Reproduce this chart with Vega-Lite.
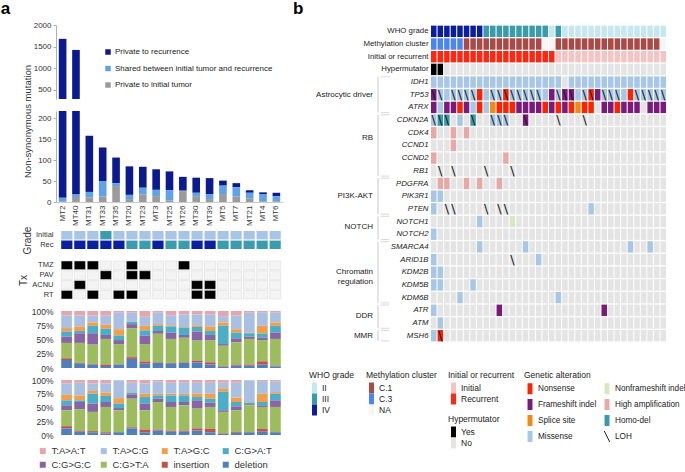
{
"$schema": "https://vega.github.io/schema/vega-lite/v6.json",
"padding": 0,
"background": "white",
"config": {
 "font": "Liberation Sans",
 "view": {"stroke": null},
 "axis": {"labelColor": "#333", "titleColor": "#333", "domainColor": "#b0b0b0", "tickColor": "#b0b0b0", "labelFontSize": 8, "titleFontWeight": "normal", "grid": false},
 "legend": {"padding": 0, "labelColor": "#222", "titleColor": "#222", "titleFontWeight": "normal", "labelFontSize": 8.5, "titleFontSize": 8.5},
 "title": {"fontWeight": "bold", "color": "#000"}
},
"datasets": {
 "mut": [
  {"s":"MT2","Private to initial tumor":2,"Shared between initial tumor and recurrence":8,"Private to recurrence":1670},
  {"s":"MT40","Private to initial tumor":12,"Shared between initial tumor and recurrence":6,"Private to recurrence":1406},
  {"s":"MT31","Private to initial tumor":11,"Shared between initial tumor and recurrence":13,"Private to recurrence":134},
  {"s":"MT33","Private to initial tumor":13,"Shared between initial tumor and recurrence":37,"Private to recurrence":80},
  {"s":"MT35","Private to initial tumor":38,"Shared between initial tumor and recurrence":7,"Private to recurrence":61},
  {"s":"MT20","Private to initial tumor":7,"Shared between initial tumor and recurrence":10,"Private to recurrence":68},
  {"s":"MT23","Private to initial tumor":18,"Shared between initial tumor and recurrence":16,"Private to recurrence":50},
  {"s":"MT3","Private to initial tumor":14,"Shared between initial tumor and recurrence":15,"Private to recurrence":49},
  {"s":"MT25","Private to initial tumor":4,"Shared between initial tumor and recurrence":24,"Private to recurrence":45},
  {"s":"MT26","Private to initial tumor":26,"Shared between initial tumor and recurrence":1,"Private to recurrence":33},
  {"s":"MT30","Private to initial tumor":14,"Shared between initial tumor and recurrence":8,"Private to recurrence":36},
  {"s":"MT39","Private to initial tumor":7,"Shared between initial tumor and recurrence":12,"Private to recurrence":38},
  {"s":"MT5","Private to initial tumor":19,"Shared between initial tumor and recurrence":20,"Private to recurrence":12},
  {"s":"MT7","Private to initial tumor":13,"Shared between initial tumor and recurrence":22,"Private to recurrence":10},
  {"s":"MT21","Private to initial tumor":9,"Shared between initial tumor and recurrence":13,"Private to recurrence":6},
  {"s":"MT4","Private to initial tumor":2,"Shared between initial tumor and recurrence":17,"Private to recurrence":4},
  {"s":"MT6","Private to initial tumor":2,"Shared between initial tumor and recurrence":12,"Private to recurrence":8}
 ],
 "grade": [
  {"s":"MT2","Initial":"II","Rec":"IV"},{"s":"MT40","Initial":"II","Rec":"IV"},{"s":"MT31","Initial":"II","Rec":"IV"},
  {"s":"MT33","Initial":"III","Rec":"IV"},{"s":"MT35","Initial":"II","Rec":"IV"},{"s":"MT20","Initial":"II","Rec":"III"},
  {"s":"MT23","Initial":"II","Rec":"III"},{"s":"MT3","Initial":"II","Rec":"IV"},{"s":"MT25","Initial":"II","Rec":"III"},
  {"s":"MT26","Initial":"II","Rec":"III"},{"s":"MT30","Initial":"II","Rec":"IV"},{"s":"MT39","Initial":"II","Rec":"IV"},
  {"s":"MT5","Initial":"II","Rec":"III"},{"s":"MT7","Initial":"II","Rec":"III"},{"s":"MT21","Initial":"II","Rec":"III"},
  {"s":"MT4","Initial":"II","Rec":"III"},{"s":"MT6","Initial":"II","Rec":"III"}
 ],
 "tx": [
  {"s":"MT2","TMZ":1,"PAV":0,"ACNU":0,"RT":1},{"s":"MT40","TMZ":1,"PAV":0,"ACNU":1,"RT":0},{"s":"MT31","TMZ":1,"PAV":0,"ACNU":0,"RT":1},
  {"s":"MT33","TMZ":0,"PAV":1,"ACNU":0,"RT":0},{"s":"MT35","TMZ":0,"PAV":0,"ACNU":0,"RT":1},{"s":"MT20","TMZ":1,"PAV":1,"ACNU":0,"RT":1},
  {"s":"MT23","TMZ":0,"PAV":1,"ACNU":0,"RT":0},{"s":"MT3","TMZ":0,"PAV":0,"ACNU":0,"RT":0},{"s":"MT25","TMZ":0,"PAV":0,"ACNU":0,"RT":0},
  {"s":"MT26","TMZ":1,"PAV":0,"ACNU":0,"RT":0},{"s":"MT30","TMZ":0,"PAV":0,"ACNU":1,"RT":1},{"s":"MT39","TMZ":0,"PAV":0,"ACNU":1,"RT":1},
  {"s":"MT5","TMZ":0,"PAV":0,"ACNU":0,"RT":0},{"s":"MT7","TMZ":0,"PAV":0,"ACNU":0,"RT":0},{"s":"MT21","TMZ":0,"PAV":0,"ACNU":0,"RT":0},
  {"s":"MT4","TMZ":0,"PAV":0,"ACNU":0,"RT":0},{"s":"MT6","TMZ":0,"PAV":0,"ACNU":0,"RT":0}
 ],
 "sig": [
  {"s":"MT2","p":1,"deletion":14,"insertion":3,"C:G>T:A":27,"C:G>G:C":11,"C:G>A:T":9,"T:A>G:C":6,"T:A>C:G":22,"T:A>A:T":8},
  {"s":"MT40","p":1,"deletion":7.5,"insertion":1.5,"C:G>T:A":35,"C:G>G:C":17,"C:G>A:T":4,"T:A>G:C":8,"T:A>C:G":19,"T:A>A:T":8},
  {"s":"MT31","p":1,"deletion":6,"insertion":1.5,"C:G>T:A":33.5,"C:G>G:C":20,"C:G>A:T":13,"T:A>G:C":6,"T:A>C:G":12,"T:A>A:T":8},
  {"s":"MT33","p":1,"deletion":3.5,"insertion":2.5,"C:G>T:A":45,"C:G>G:C":7,"C:G>A:T":11,"T:A>G:C":7,"T:A>C:G":16,"T:A>A:T":8},
  {"s":"MT35","p":1,"deletion":6,"insertion":0.5,"C:G>T:A":35.5,"C:G>G:C":7,"C:G>A:T":8,"T:A>G:C":11,"T:A>C:G":29,"T:A>A:T":3},
  {"s":"MT20","p":1,"deletion":16,"insertion":3,"C:G>T:A":51,"C:G>G:C":7,"C:G>A:T":4,"T:A>G:C":0.5,"T:A>C:G":15.5,"T:A>A:T":3},
  {"s":"MT23","p":1,"deletion":7.5,"insertion":4,"C:G>T:A":30.5,"C:G>G:C":15,"C:G>A:T":9,"T:A>G:C":8,"T:A>C:G":16,"T:A>A:T":10},
  {"s":"MT3","p":1,"deletion":9,"insertion":1,"C:G>T:A":50,"C:G>G:C":5,"C:G>A:T":9,"T:A>G:C":3,"T:A>C:G":20,"T:A>A:T":3},
  {"s":"MT25","p":1,"deletion":7.5,"insertion":1.5,"C:G>T:A":42,"C:G>G:C":11,"C:G>A:T":11,"T:A>G:C":2,"T:A>C:G":17.5,"T:A>A:T":7.5},
  {"s":"MT26","p":1,"deletion":9,"insertion":1,"C:G>T:A":43,"C:G>G:C":5,"C:G>A:T":12.5,"T:A>G:C":1.5,"T:A>C:G":22,"T:A>A:T":6},
  {"s":"MT30","p":1,"deletion":10,"insertion":3,"C:G>T:A":35,"C:G>G:C":16,"C:G>A:T":8,"T:A>G:C":3,"T:A>C:G":19,"T:A>A:T":6},
  {"s":"MT39","p":1,"deletion":6,"insertion":4,"C:G>T:A":39,"C:G>G:C":9,"C:G>A:T":7,"T:A>G:C":8,"T:A>C:G":21,"T:A>A:T":6},
  {"s":"MT5","p":1,"deletion":2,"insertion":1,"C:G>T:A":36,"C:G>G:C":3,"C:G>A:T":32,"T:A>G:C":6,"T:A>C:G":11,"T:A>A:T":9},
  {"s":"MT7","p":1,"deletion":4,"insertion":2,"C:G>T:A":39,"C:G>G:C":7,"C:G>A:T":10,"T:A>G:C":6,"T:A>C:G":24,"T:A>A:T":8},
  {"s":"MT21","p":1,"deletion":4,"insertion":2,"C:G>T:A":45,"C:G>G:C":4,"C:G>A:T":6,"T:A>G:C":1,"T:A>C:G":35,"T:A>A:T":3},
  {"s":"MT4","p":1,"deletion":6,"insertion":5.6,"C:G>T:A":37.4,"C:G>G:C":4.5,"C:G>A:T":7,"T:A>G:C":13.5,"T:A>C:G":23,"T:A>A:T":3},
  {"s":"MT6","p":1,"deletion":3,"insertion":1,"C:G>T:A":47,"C:G>G:C":11,"C:G>A:T":12,"T:A>G:C":6,"T:A>C:G":17,"T:A>A:T":3},
  {"s":"MT2","p":2,"deletion":12,"insertion":4,"C:G>T:A":29,"C:G>G:C":9,"C:G>A:T":9,"T:A>G:C":10,"T:A>C:G":21,"T:A>A:T":6},
  {"s":"MT40","p":2,"deletion":6,"insertion":2,"C:G>T:A":39,"C:G>G:C":13,"C:G>A:T":3,"T:A>G:C":9,"T:A>C:G":23,"T:A>A:T":5},
  {"s":"MT31","p":2,"deletion":5,"insertion":2,"C:G>T:A":35,"C:G>G:C":15,"C:G>A:T":18,"T:A>G:C":5,"T:A>C:G":14,"T:A>A:T":6},
  {"s":"MT33","p":2,"deletion":3,"insertion":2,"C:G>T:A":46,"C:G>G:C":9,"C:G>A:T":11,"T:A>G:C":6,"T:A>C:G":17,"T:A>A:T":6},
  {"s":"MT35","p":2,"deletion":5,"insertion":0.5,"C:G>T:A":39.5,"C:G>G:C":4,"C:G>A:T":8,"T:A>G:C":10,"T:A>C:G":32,"T:A>A:T":1},
  {"s":"MT20","p":2,"deletion":12,"insertion":2,"C:G>T:A":52,"C:G>G:C":8,"C:G>A:T":3,"T:A>G:C":1,"T:A>C:G":17,"T:A>A:T":5},
  {"s":"MT23","p":2,"deletion":5,"insertion":5,"C:G>T:A":35,"C:G>G:C":12,"C:G>A:T":12,"T:A>G:C":6,"T:A>C:G":19,"T:A>A:T":6},
  {"s":"MT3","p":2,"deletion":8,"insertion":2,"C:G>T:A":50,"C:G>G:C":6,"C:G>A:T":6,"T:A>G:C":3,"T:A>C:G":22,"T:A>A:T":3},
  {"s":"MT25","p":2,"deletion":6,"insertion":2,"C:G>T:A":43,"C:G>G:C":9,"C:G>A:T":12,"T:A>G:C":3,"T:A>C:G":20,"T:A>A:T":5},
  {"s":"MT26","p":2,"deletion":6,"insertion":2,"C:G>T:A":46,"C:G>G:C":6,"C:G>A:T":12,"T:A>G:C":3,"T:A>C:G":21,"T:A>A:T":4},
  {"s":"MT30","p":2,"deletion":8,"insertion":4,"C:G>T:A":36,"C:G>G:C":15,"C:G>A:T":6,"T:A>G:C":6,"T:A>C:G":20,"T:A>A:T":5},
  {"s":"MT39","p":2,"deletion":5,"insertion":6,"C:G>T:A":40,"C:G>G:C":8,"C:G>A:T":7,"T:A>G:C":9,"T:A>C:G":20,"T:A>A:T":5},
  {"s":"MT5","p":2,"deletion":2,"insertion":1,"C:G>T:A":39,"C:G>G:C":3,"C:G>A:T":34,"T:A>G:C":6,"T:A>C:G":10,"T:A>A:T":5},
  {"s":"MT7","p":2,"deletion":4,"insertion":2,"C:G>T:A":39,"C:G>G:C":7,"C:G>A:T":8,"T:A>G:C":8,"T:A>C:G":27,"T:A>A:T":5},
  {"s":"MT21","p":2,"deletion":5,"insertion":0.5,"C:G>T:A":48.5,"C:G>G:C":2,"C:G>A:T":3,"T:A>G:C":1,"T:A>C:G":39,"T:A>A:T":1},
  {"s":"MT4","p":2,"deletion":6,"insertion":5,"C:G>T:A":40,"C:G>G:C":3,"C:G>A:T":6,"T:A>G:C":15,"T:A>C:G":23,"T:A>A:T":2},
  {"s":"MT6","p":2,"deletion":5,"insertion":0.5,"C:G>T:A":45.5,"C:G>G:C":12,"C:G>A:T":12,"T:A>G:C":3,"T:A>C:G":19,"T:A>A:T":3}
 ],
 "ann": [
  {"c":1,"WHO grade":"IV","Methylation cluster":"C.3","Initial or recurrent":"Recurrent","Hypermutator":"Yes"},
  {"c":2,"WHO grade":"IV","Methylation cluster":"C.3","Initial or recurrent":"Recurrent","Hypermutator":"Yes"},
  {"c":3,"WHO grade":"IV","Methylation cluster":"C.3","Initial or recurrent":"Recurrent","Hypermutator":"No"},
  {"c":4,"WHO grade":"IV","Methylation cluster":"C.3","Initial or recurrent":"Recurrent","Hypermutator":"No"},
  {"c":5,"WHO grade":"IV","Methylation cluster":"C.3","Initial or recurrent":"Recurrent","Hypermutator":"No"},
  {"c":6,"WHO grade":"IV","Methylation cluster":"C.1","Initial or recurrent":"Recurrent","Hypermutator":"No"},
  {"c":7,"WHO grade":"IV","Methylation cluster":"C.1","Initial or recurrent":"Recurrent","Hypermutator":"No"},
  {"c":8,"WHO grade":"IV","Methylation cluster":"C.1","Initial or recurrent":"Recurrent","Hypermutator":"No"},
  {"c":9,"WHO grade":"III","Methylation cluster":"C.1","Initial or recurrent":"Recurrent","Hypermutator":"No"},
  {"c":10,"WHO grade":"III","Methylation cluster":"C.1","Initial or recurrent":"Recurrent","Hypermutator":"No"},
  {"c":11,"WHO grade":"III","Methylation cluster":"C.1","Initial or recurrent":"Recurrent","Hypermutator":"No"},
  {"c":12,"WHO grade":"III","Methylation cluster":"C.1","Initial or recurrent":"Recurrent","Hypermutator":"No"},
  {"c":13,"WHO grade":"III","Methylation cluster":"C.1","Initial or recurrent":"Recurrent","Hypermutator":"No"},
  {"c":14,"WHO grade":"III","Methylation cluster":"C.1","Initial or recurrent":"Recurrent","Hypermutator":"No"},
  {"c":15,"WHO grade":"III","Methylation cluster":"C.1","Initial or recurrent":"Recurrent","Hypermutator":"No"},
  {"c":16,"WHO grade":"III","Methylation cluster":"C.1","Initial or recurrent":"Recurrent","Hypermutator":"No"},
  {"c":17,"WHO grade":"III","Methylation cluster":"C.1","Initial or recurrent":"Recurrent","Hypermutator":"No"},
  {"c":18,"WHO grade":"III","Methylation cluster":"NA","Initial or recurrent":"Recurrent","Hypermutator":"No"},
  {"c":19,"WHO grade":"II","Methylation cluster":"NA","Initial or recurrent":"Recurrent","Hypermutator":"No"},
  {"c":20,"WHO grade":"III","Methylation cluster":"C.1","Initial or recurrent":"Initial","Hypermutator":"No"},
  {"c":21,"WHO grade":"II","Methylation cluster":"C.1","Initial or recurrent":"Initial","Hypermutator":"No"},
  {"c":22,"WHO grade":"II","Methylation cluster":"C.1","Initial or recurrent":"Initial","Hypermutator":"No"},
  {"c":23,"WHO grade":"II","Methylation cluster":"C.1","Initial or recurrent":"Initial","Hypermutator":"No"},
  {"c":24,"WHO grade":"II","Methylation cluster":"C.1","Initial or recurrent":"Initial","Hypermutator":"No"},
  {"c":25,"WHO grade":"II","Methylation cluster":"C.1","Initial or recurrent":"Initial","Hypermutator":"No"},
  {"c":26,"WHO grade":"II","Methylation cluster":"C.1","Initial or recurrent":"Initial","Hypermutator":"No"},
  {"c":27,"WHO grade":"II","Methylation cluster":"C.1","Initial or recurrent":"Initial","Hypermutator":"No"},
  {"c":28,"WHO grade":"II","Methylation cluster":"C.1","Initial or recurrent":"Initial","Hypermutator":"No"},
  {"c":29,"WHO grade":"II","Methylation cluster":"C.1","Initial or recurrent":"Initial","Hypermutator":"No"},
  {"c":30,"WHO grade":"II","Methylation cluster":"C.1","Initial or recurrent":"Initial","Hypermutator":"No"},
  {"c":31,"WHO grade":"II","Methylation cluster":"C.1","Initial or recurrent":"Initial","Hypermutator":"No"},
  {"c":32,"WHO grade":"II","Methylation cluster":"C.1","Initial or recurrent":"Initial","Hypermutator":"No"},
  {"c":33,"WHO grade":"II","Methylation cluster":"C.1","Initial or recurrent":"Initial","Hypermutator":"No"},
  {"c":34,"WHO grade":"II","Methylation cluster":"C.1","Initial or recurrent":"Initial","Hypermutator":"No"},
  {"c":35,"WHO grade":"II","Methylation cluster":"C.1","Initial or recurrent":"Initial","Hypermutator":"No"},
  {"c":36,"WHO grade":"II","Methylation cluster":"NA","Initial or recurrent":"Initial","Hypermutator":"No"}
 ],
 "genes": [
  {"g":"IDH1","c":1,"v":"Missense"},{"g":"IDH1","c":2,"v":"Missense"},{"g":"IDH1","c":3,"v":"Missense"},{"g":"IDH1","c":4,"v":"Missense"},
  {"g":"IDH1","c":5,"v":"Missense"},{"g":"IDH1","c":6,"v":"Missense"},{"g":"IDH1","c":7,"v":"Missense"},{"g":"IDH1","c":8,"v":"Missense"},
  {"g":"IDH1","c":9,"v":"Missense"},{"g":"IDH1","c":10,"v":"Missense"},{"g":"IDH1","c":11,"v":"Missense"},{"g":"IDH1","c":12,"v":"Missense"},
  {"g":"IDH1","c":13,"v":"Missense"},{"g":"IDH1","c":14,"v":"Missense"},{"g":"IDH1","c":15,"v":"Missense"},{"g":"IDH1","c":16,"v":"Missense"},
  {"g":"IDH1","c":17,"v":"Missense"},{"g":"IDH1","c":18,"v":"Missense"},{"g":"IDH1","c":19,"v":"Missense"},{"g":"IDH1","c":20,"v":"Missense"},
  {"g":"IDH1","c":22,"v":"Missense"},{"g":"IDH1","c":23,"v":"Missense"},{"g":"IDH1","c":24,"v":"Missense"},{"g":"IDH1","c":25,"v":"Missense"},
  {"g":"IDH1","c":26,"v":"Missense"},{"g":"IDH1","c":27,"v":"Missense"},{"g":"IDH1","c":28,"v":"Missense"},{"g":"IDH1","c":29,"v":"Missense"},
  {"g":"IDH1","c":30,"v":"Missense"},{"g":"IDH1","c":31,"v":"Missense"},{"g":"IDH1","c":32,"v":"Missense"},{"g":"IDH1","c":33,"v":"Missense"},
  {"g":"IDH1","c":34,"v":"Missense"},{"g":"IDH1","c":35,"v":"Missense"},{"g":"IDH1","c":36,"v":"Missense"},
  {"g":"TP53","c":1,"v":"Frameshift indel","l":1},{"g":"TP53","c":2,"v":"Missense","l":1},{"g":"TP53","c":3,"v":"Missense"},
  {"g":"TP53","c":4,"v":"Missense","l":1},{"g":"TP53","c":5,"v":"Missense","l":1},{"g":"TP53","c":6,"v":"Missense","l":1},
  {"g":"TP53","c":7,"v":"Missense","l":1},{"g":"TP53","c":8,"v":"Nonsense"},{"g":"TP53","c":9,"v":"Missense"},
  {"g":"TP53","c":10,"v":"Missense","l":1},{"g":"TP53","c":11,"v":"Missense","l":1},{"g":"TP53","c":12,"v":"Nonsense","l":1},
  {"g":"TP53","c":13,"v":"Missense","l":1},{"g":"TP53","c":14,"v":"Missense","l":1},{"g":"TP53","c":15,"v":"Missense","l":1},
  {"g":"TP53","c":16,"v":"Missense","l":1},{"g":"TP53","c":17,"v":"Missense","l":1},{"g":"TP53","c":18,"v":"Missense"},
  {"g":"TP53","c":19,"v":"Frameshift indel"},{"g":"TP53","c":20,"v":"Missense","l":1},{"g":"TP53","c":21,"v":"Frameshift indel","l":1},
  {"g":"TP53","c":22,"v":"Frameshift indel","l":1},{"g":"TP53","c":23,"v":"Missense"},{"g":"TP53","c":24,"v":"Missense","l":1},
  {"g":"TP53","c":25,"v":"Nonsense","l":1},{"g":"TP53","c":26,"v":"Frameshift indel"},{"g":"TP53","c":27,"v":"Missense","l":1},
  {"g":"TP53","c":28,"v":"Missense","l":1},{"g":"TP53","c":29,"v":"Missense","l":1},{"g":"TP53","c":30,"v":"Missense"},
  {"g":"TP53","c":31,"v":"Nonsense"},{"g":"TP53","c":32,"v":"Missense","l":1},{"g":"TP53","c":33,"v":"Missense","l":1},
  {"g":"TP53","c":34,"v":"Missense","l":1},{"g":"TP53","c":35,"v":"Missense","l":1},{"g":"TP53","c":36,"v":"Missense","l":1},
  {"g":"ATRX","c":1,"v":"Frameshift indel"},{"g":"ATRX","c":2,"v":"Missense"},{"g":"ATRX","c":3,"v":"Frameshift indel"},
  {"g":"ATRX","c":4,"v":"Frameshift indel"},{"g":"ATRX","c":5,"v":"Nonsense"},{"g":"ATRX","c":6,"v":"Frameshift indel"},
  {"g":"ATRX","c":7,"v":"Missense"},{"g":"ATRX","c":8,"v":"Nonsense"},{"g":"ATRX","c":9,"v":"Missense"},
  {"g":"ATRX","c":10,"v":"Splice site"},{"g":"ATRX","c":11,"v":"Nonsense"},{"g":"ATRX","c":12,"v":"Nonsense"},
  {"g":"ATRX","c":13,"v":"Nonsense"},{"g":"ATRX","c":14,"v":"Frameshift indel"},{"g":"ATRX","c":15,"v":"Frameshift indel"},
  {"g":"ATRX","c":16,"v":"Frameshift indel"},{"g":"ATRX","c":17,"v":"Frameshift indel"},{"g":"ATRX","c":18,"v":"Nonsense"},
  {"g":"ATRX","c":19,"v":"Frameshift indel"},{"g":"ATRX","c":20,"v":"Nonsense"},{"g":"ATRX","c":21,"v":"Frameshift indel"},
  {"g":"ATRX","c":22,"v":"Nonsense"},{"g":"ATRX","c":23,"v":"Splice site"},{"g":"ATRX","c":24,"v":"Nonsense"},
  {"g":"ATRX","c":25,"v":"Nonsense"},{"g":"ATRX","c":27,"v":"Frameshift indel"},{"g":"ATRX","c":28,"v":"Frameshift indel"},
  {"g":"ATRX","c":29,"v":"Nonsense"},{"g":"ATRX","c":30,"v":"Frameshift indel"},{"g":"ATRX","c":31,"v":"Frameshift indel"},
  {"g":"ATRX","c":32,"v":"Frameshift indel"},{"g":"ATRX","c":34,"v":"Frameshift indel"},{"g":"ATRX","c":35,"v":"Frameshift indel"},
  {"g":"ATRX","c":36,"v":"Frameshift indel"},
  {"g":"CDKN2A","c":1,"v":"Missense","l":1},{"g":"CDKN2A","c":2,"v":"Homo-del","l":1},{"g":"CDKN2A","c":3,"v":"Homo-del","l":1},
  {"g":"CDKN2A","c":5,"v":"Missense"},{"g":"CDKN2A","c":7,"v":"Homo-del","l":1},{"g":"CDKN2A","c":10,"v":"Missense","l":1},
  {"g":"CDKN2A","c":11,"v":"Missense","l":1},{"g":"CDKN2A","c":12,"v":"Missense","l":1},{"g":"CDKN2A","c":15,"v":"Frameshift indel","l":1},
  {"g":"CDKN2A","c":20,"v":"none","l":1},{"g":"CDKN2A","c":24,"v":"none","l":1},
  {"g":"CDK4","c":1,"v":"High amplification"},{"g":"CDK4","c":4,"v":"High amplification"},{"g":"CDK4","c":6,"v":"High amplification"},
  {"g":"CCND1","c":4,"v":"High amplification"},
  {"g":"CCND2","c":1,"v":"High amplification"},{"g":"CCND2","c":12,"v":"High amplification"},
  {"g":"RB1","c":2,"v":"none","l":1},{"g":"RB1","c":4,"v":"none","l":1},{"g":"RB1","c":9,"v":"none","l":1},{"g":"RB1","c":13,"v":"none","l":1},
  {"g":"PDGFRA","c":2,"v":"High amplification"},{"g":"PDGFRA","c":3,"v":"High amplification"},{"g":"PDGFRA","c":6,"v":"High amplification"},
  {"g":"PDGFRA","c":8,"v":"High amplification"},{"g":"PDGFRA","c":11,"v":"High amplification"},
  {"g":"PIK3R1","c":1,"v":"Missense"},{"g":"PIK3R1","c":2,"v":"Missense"},
  {"g":"PTEN","c":1,"v":"Missense"},{"g":"PTEN","c":3,"v":"none","l":1},{"g":"PTEN","c":4,"v":"none","l":1},{"g":"PTEN","c":9,"v":"none","l":1},
  {"g":"PTEN","c":11,"v":"none","l":1},{"g":"PTEN","c":12,"v":"none","l":1},{"g":"PTEN","c":25,"v":"Missense"},
  {"g":"NOTCH1","c":8,"v":"Missense"},{"g":"NOTCH1","c":13,"v":"Nonframeshift indel"},
  {"g":"NOTCH2","c":1,"v":"Missense"},
  {"g":"SMARCA4","c":8,"v":"Missense"},{"g":"SMARCA4","c":15,"v":"Missense"},{"g":"SMARCA4","c":31,"v":"Missense"},{"g":"SMARCA4","c":34,"v":"Missense"},
  {"g":"ARID1B","c":1,"v":"Missense"},{"g":"ARID1B","c":13,"v":"none","l":1},{"g":"ARID1B","c":17,"v":"Missense"},
  {"g":"KDM2B","c":1,"v":"Missense"},{"g":"KDM2B","c":2,"v":"Missense"},
  {"g":"KDM5B","c":1,"v":"Missense"},{"g":"KDM5B","c":2,"v":"Missense"},{"g":"KDM5B","c":7,"v":"Missense"},
  {"g":"KDM6B","c":5,"v":"Missense"},{"g":"KDM6B","c":20,"v":"Missense"},
  {"g":"ATR","c":1,"v":"Missense"},{"g":"ATR","c":11,"v":"Frameshift indel"},{"g":"ATR","c":27,"v":"Frameshift indel"},
  {"g":"ATM","c":2,"v":"Missense"},
  {"g":"MSH6","c":1,"v":"Missense"},{"g":"MSH6","c":2,"v":"Nonsense","l":1}
 ],
 "groups": [
  {"grp":"Astrocytic driver","first":"IDH1","last":"ATRX"},{"grp":"RB","first":"CDKN2A","last":"RB1"},
  {"grp":"PI3K-AKT","first":"PDGFRA","last":"PTEN"},{"grp":"NOTCH","first":"NOTCH1","last":"NOTCH2"},
  {"grp":"Chromatin regulation","first":"SMARCA4","last":"KDM6B"},{"grp":"DDR","first":"ATR","last":"ATM"},
  {"grp":"MMR","first":"MSH6","last":"MSH6"}
 ]
},
"spacing": 7,
"hconcat": [
 {
  "title": {"text": "a", "anchor": "start", "fontSize": 17, "dx": -18, "offset": 3},
  "spacing": 12,
  "bounds": "flush",
  "resolve": {"scale": {"color": "independent"}, "legend": {"color": "independent"}},
  "vconcat": [
   {
    "width": 227, "height": 74,
    "data": {"name": "mut"},
    "transform": [
     {"fold": ["Private to recurrence", "Shared between initial tumor and recurrence", "Private to initial tumor"], "as": ["key", "value"]},
     {"lookup": "key", "from": {"data": {"values": [{"key": "Private to initial tumor", "o": 1}, {"key": "Shared between initial tumor and recurrence", "o": 2}, {"key": "Private to recurrence", "o": 3}]}, "key": "key", "fields": ["o"]}}
    ],
    "mark": {"type": "bar", "clip": true},
    "encoding": {
     "x": {"field": "s", "type": "nominal", "sort": ["MT2","MT40","MT31","MT33","MT35","MT20","MT23","MT3","MT25","MT26","MT30","MT39","MT5","MT7","MT21","MT4","MT6"], "scale": {"paddingInner": 0.43, "paddingOuter": 0.21}, "axis": null},
     "y": {"field": "value", "type": "quantitative", "stack": "zero", "scale": {"domain": [290, 2000], "nice": false, "zero": false},
           "axis": {"values": [500, 1000, 1500, 2000], "format": "d", "title": "Non-synonymous mutation", "titleFontSize": 9.5, "titleY": 96, "titlePadding": 1, "tickSize": 3, "labelPadding": 2}},
     "color": {"field": "key", "type": "nominal",
               "scale": {"domain": ["Private to recurrence", "Shared between initial tumor and recurrence", "Private to initial tumor"], "range": ["#0b1a8f", "#5ea2e8", "#9b9b9b"]},
               "legend": {"orient": "none", "legendX": 48, "legendY": 23, "title": null, "symbolType": "square", "symbolSize": 30, "labelFontSize": 8, "rowPadding": 8.5, "labelOffset": 3, "symbolStrokeWidth": 0}},
     "order": {"field": "o", "type": "quantitative"}
    }
   },
   {
    "width": 227, "height": 91,
    "data": {"name": "mut"},
    "transform": [
     {"fold": ["Private to recurrence", "Shared between initial tumor and recurrence", "Private to initial tumor"], "as": ["key", "value"]},
     {"lookup": "key", "from": {"data": {"values": [{"key": "Private to initial tumor", "o": 1}, {"key": "Shared between initial tumor and recurrence", "o": 2}, {"key": "Private to recurrence", "o": 3}]}, "key": "key", "fields": ["o"]}}
    ],
    "mark": {"type": "bar", "clip": true},
    "encoding": {
     "x": {"field": "s", "type": "nominal", "sort": ["MT2","MT40","MT31","MT33","MT35","MT20","MT23","MT3","MT25","MT26","MT30","MT39","MT5","MT7","MT21","MT4","MT6"], "scale": {"paddingInner": 0.43, "paddingOuter": 0.21},
           "axis": {"title": null, "labelAngle": 270, "labelFontSize": 8, "ticks": false, "labelPadding": 3, "domainColor": "#cccccc"}},
     "y": {"field": "value", "type": "quantitative", "stack": "zero", "scale": {"domain": [0, 217], "nice": false},
           "axis": {"values": [0, 50, 100, 150, 200], "title": null, "tickSize": 3, "labelPadding": 2}},
     "color": {"field": "key", "type": "nominal",
               "scale": {"domain": ["Private to recurrence", "Shared between initial tumor and recurrence", "Private to initial tumor"], "range": ["#0b1a8f", "#5ea2e8", "#9b9b9b"]},
               "legend": null},
     "order": {"field": "o", "type": "quantitative"}
    }
   },
   {
    "width": 230, "height": 5,
    "data": {"values": []},
    "mark": {"type": "point", "opacity": 0},
    "encoding": {}
   },
   {
    "width": 230, "height": 18,
    "data": {"name": "grade"},
    "transform": [{"fold": ["Initial", "Rec"], "as": ["key", "value"]}],
    "mark": {"type": "rect"},
    "encoding": {
     "x": {"field": "s", "type": "nominal", "sort": ["MT2","MT40","MT31","MT33","MT35","MT20","MT23","MT3","MT25","MT26","MT30","MT39","MT5","MT7","MT21","MT4","MT6"], "scale": {"paddingInner": 0.14, "paddingOuter": 0.4}, "axis": null},
     "y": {"field": "key", "type": "nominal", "sort": ["Initial", "Rec"], "scale": {"paddingInner": 0.12, "paddingOuter": 0},
           "axis": {"title": "Grade", "titleFontSize": 10, "titlePadding": 3, "labelFontSize": 7.5, "domain": false, "ticks": false, "labelPadding": 3}},
     "color": {"field": "value", "type": "nominal", "scale": {"domain": ["II", "III", "IV"], "range": ["#a9c5e6", "#3b9cad", "#0a20a0"]}, "legend": null}
    }
   },
   {
    "width": 230, "height": 38,
    "data": {"name": "tx"},
    "transform": [{"fold": ["TMZ", "PAV", "ACNU", "RT"], "as": ["key", "value"]}],
    "mark": {"type": "rect", "stroke": "#d8d8d8", "strokeWidth": 0.5},
    "encoding": {
     "x": {"field": "s", "type": "nominal", "sort": ["MT2","MT40","MT31","MT33","MT35","MT20","MT23","MT3","MT25","MT26","MT30","MT39","MT5","MT7","MT21","MT4","MT6"], "scale": {"paddingInner": 0.14, "paddingOuter": 0.4}, "axis": null},
     "y": {"field": "key", "type": "nominal", "sort": ["TMZ", "PAV", "ACNU", "RT"], "scale": {"paddingInner": 0.12, "paddingOuter": 0},
           "axis": {"title": "Tx", "titleFontSize": 10, "titlePadding": 3, "labelFontSize": 7.5, "domain": false, "ticks": false, "labelPadding": 3}},
     "color": {"condition": {"test": "datum.value == 1", "value": "#000000"}, "value": "#f4f4f4"}
    }
   },
   {
    "width": 230, "height": 57,
    "data": {"name": "sig"},
    "transform": [
     {"filter": "datum.p == 1"},
     {"fold": ["T:A>A:T", "T:A>C:G", "T:A>G:C", "C:G>A:T", "C:G>G:C", "C:G>T:A", "insertion", "deletion"], "as": ["key", "value"]},
     {"lookup": "key", "from": {"data": {"values": [{"key": "deletion", "o": 1}, {"key": "insertion", "o": 2}, {"key": "C:G>T:A", "o": 3}, {"key": "C:G>G:C", "o": 4}, {"key": "C:G>A:T", "o": 5}, {"key": "T:A>G:C", "o": 6}, {"key": "T:A>C:G", "o": 7}, {"key": "T:A>A:T", "o": 8}]}, "key": "key", "fields": ["o"]}}
    ],
    "mark": {"type": "bar"},
    "encoding": {
     "x": {"field": "s", "type": "nominal", "sort": ["MT2","MT40","MT31","MT33","MT35","MT20","MT23","MT3","MT25","MT26","MT30","MT39","MT5","MT7","MT21","MT4","MT6"], "scale": {"paddingInner": 0.18, "paddingOuter": 0.4}, "axis": null},
     "y": {"field": "value", "type": "quantitative", "stack": "normalize",
           "axis": {"format": ".0%", "values": [0, 0.25, 0.5, 0.75, 1], "title": null, "domain": false, "ticks": false, "labelPadding": 3, "labelFontSize": 8.5}},
     "color": {"field": "key", "type": "nominal",
               "scale": {"domain": ["T:A>A:T", "C:G>G:C", "T:A>C:G", "C:G>T:A", "T:A>G:C", "insertion", "C:G>A:T", "deletion"], "range": ["#e6a5a8", "#8866a6", "#a9c0e2", "#9dbc5e", "#f19f4d", "#c2504d", "#4badc6", "#4f80bc"]},
               "legend": null},
     "order": {"field": "o", "type": "quantitative"}
    }
   },
   {
    "width": 230, "height": 55,
    "data": {"name": "sig"},
    "transform": [
     {"filter": "datum.p == 2"},
     {"fold": ["T:A>A:T", "T:A>C:G", "T:A>G:C", "C:G>A:T", "C:G>G:C", "C:G>T:A", "insertion", "deletion"], "as": ["key", "value"]},
     {"lookup": "key", "from": {"data": {"values": [{"key": "deletion", "o": 1}, {"key": "insertion", "o": 2}, {"key": "C:G>T:A", "o": 3}, {"key": "C:G>G:C", "o": 4}, {"key": "C:G>A:T", "o": 5}, {"key": "T:A>G:C", "o": 6}, {"key": "T:A>C:G", "o": 7}, {"key": "T:A>A:T", "o": 8}]}, "key": "key", "fields": ["o"]}}
    ],
    "mark": {"type": "bar"},
    "encoding": {
     "x": {"field": "s", "type": "nominal", "sort": ["MT2","MT40","MT31","MT33","MT35","MT20","MT23","MT3","MT25","MT26","MT30","MT39","MT5","MT7","MT21","MT4","MT6"], "scale": {"paddingInner": 0.18, "paddingOuter": 0.4}, "axis": null},
     "y": {"field": "value", "type": "quantitative", "stack": "normalize",
           "axis": {"format": ".0%", "values": [0, 0.25, 0.5, 0.75, 1], "title": null, "domain": false, "ticks": false, "labelPadding": 3, "labelFontSize": 8.5}},
     "color": {"field": "key", "type": "nominal",
               "scale": {"domain": ["T:A>A:T", "C:G>G:C", "T:A>C:G", "C:G>T:A", "T:A>G:C", "insertion", "C:G>A:T", "deletion"], "range": ["#e6a5a8", "#8866a6", "#a9c0e2", "#9dbc5e", "#f19f4d", "#c2504d", "#4badc6", "#4f80bc"]},
               "legend": {"orient": "none", "legendX": -18, "legendY": 66, "title": null, "columns": 4, "gridAlign": "all", "columnPadding": 8, "rowPadding": 3, "symbolType": "square", "symbolSize": 36, "symbolStrokeWidth": 0, "labelFontSize": 9.5, "labelOffset": 4, "labelColor": "#333"}},
     "order": {"field": "o", "type": "quantitative"}
    }
   }
  ]
 },
 {
  "title": {"text": "b", "anchor": "start", "fontSize": 17, "dx": -16, "offset": 7},
  "width": 235, "height": 317,
  "resolve": {"scale": {"color": "independent"}, "legend": {"color": "independent"}, "axis": {"y": "independent"}},
  "encoding": {
   "x": {"field": "c", "type": "ordinal", "scale": {"domain": [1,2,3,4,5,6,7,8,9,10,11,12,13,14,15,16,17,18,19,20,21,22,23,24,25,26,27,28,29,30,31,32,33,34,35,36], "paddingInner": 0.16, "paddingOuter": 0}, "axis": null},
   "y": {"field": "g", "type": "nominal",
         "scale": {"domain": ["WHO grade","Methylation cluster","Initial or recurrent","Hypermutator","IDH1","TP53","ATRX","CDKN2A","CDK4","CCND1","CCND2","RB1","PDGFRA","PIK3R1","PTEN","NOTCH1","NOTCH2","SMARCA4","ARID1B","KDM2B","KDM5B","KDM6B","ATR","ATM","MSH6"], "paddingInner": 0.1, "paddingOuter": 0.05},
         "axis": null}
  },
  "layer": [
   {
    "data": {"name": "ann"},
    "transform": [{"fold": ["WHO grade", "Methylation cluster", "Initial or recurrent", "Hypermutator"], "as": ["g", "v"]}, {"filter": "datum.g == 'WHO grade'"}],
    "mark": {"type": "rect"},
    "encoding": {
     "y": {"field": "g", "type": "nominal",
           "scale": {"domain": ["WHO grade","Methylation cluster","Initial or recurrent","Hypermutator","IDH1","TP53","ATRX","CDKN2A","CDK4","CCND1","CCND2","RB1","PDGFRA","PIK3R1","PTEN","NOTCH1","NOTCH2","SMARCA4","ARID1B","KDM2B","KDM5B","KDM6B","ATR","ATM","MSH6"], "paddingInner": 0.1, "paddingOuter": 0.05},
           "axis": {"orient": "left", "title": null, "domain": false, "ticks": false, "labelPadding": 3, "labelFontSize": 7.8, "labelColor": "#222",
                    "labelExpr": "(datum.value == 'WHO grade' || datum.value == 'Methylation cluster' || datum.value == 'Initial or recurrent' || datum.value == 'Hypermutator') ? datum.value : ''"}},
     "color": {"field": "v", "type": "nominal", "scale": {"domain": ["II", "III", "IV"], "range": ["#c6e7f0", "#3a9bab", "#0b1f9e"]},
      "legend": {"title": "WHO grade", "orient": "none", "legendX": -122, "legendY": 346, "symbolType": "M-0.45,-1H0.45V1H-0.45Z", "symbolSize": 121, "symbolStrokeWidth": 0, "rowPadding": 0, "labelOffset": 2, "titlePadding": 3}}}
   },
   {
    "data": {"name": "ann"},
    "transform": [{"fold": ["WHO grade", "Methylation cluster", "Initial or recurrent", "Hypermutator"], "as": ["g", "v"]}, {"filter": "datum.g == 'Methylation cluster'"}],
    "mark": {"type": "rect"},
    "encoding": {"color": {"field": "v", "type": "nominal", "scale": {"domain": ["C.1", "C.3", "NA"], "range": ["#a94a47", "#4a86ef", "#f6f6f6"]},
      "legend": {"title": "Methylation cluster", "orient": "none", "legendX": -65, "legendY": 346, "symbolType": "M-0.45,-1H0.45V1H-0.45Z", "symbolSize": 121, "symbolStrokeWidth": 0, "rowPadding": 0, "labelOffset": 2, "titlePadding": 3}}}
   },
   {
    "data": {"name": "ann"},
    "transform": [{"fold": ["WHO grade", "Methylation cluster", "Initial or recurrent", "Hypermutator"], "as": ["g", "v"]}, {"filter": "datum.g == 'Initial or recurrent'"}],
    "mark": {"type": "rect"},
    "encoding": {"color": {"field": "v", "type": "nominal", "scale": {"domain": ["Initial", "Recurrent"], "range": ["#f2c4c4", "#ff2612"]},
      "legend": {"title": "Initial or recurrent", "orient": "none", "legendX": 17, "legendY": 346, "symbolType": "M-0.45,-1H0.45V1H-0.45Z", "symbolSize": 121, "symbolStrokeWidth": 0, "rowPadding": 0, "labelOffset": 2, "titlePadding": 3}}}
   },
   {
    "data": {"name": "ann"},
    "transform": [{"fold": ["WHO grade", "Methylation cluster", "Initial or recurrent", "Hypermutator"], "as": ["g", "v"]}, {"filter": "datum.g == 'Hypermutator'"}],
    "mark": {"type": "rect"},
    "encoding": {"color": {"field": "v", "type": "nominal", "scale": {"domain": ["Yes", "No"], "range": ["#000000", "#e4e4e4"]},
      "legend": {"title": "Hypermutator", "orient": "none", "legendX": 17, "legendY": 390, "symbolType": "M-0.45,-1H0.45V1H-0.45Z", "symbolSize": 121, "symbolStrokeWidth": 0, "rowPadding": 0, "labelOffset": 2, "titlePadding": 3}}}
   },
   {
    "data": {"name": "genes"},
    "transform": [{"impute": "v", "key": "c", "groupby": ["g"], "value": "none"}],
    "mark": {"type": "rect"},
    "encoding": {
     "y": {"field": "g", "type": "nominal",
           "scale": {"domain": ["WHO grade","Methylation cluster","Initial or recurrent","Hypermutator","IDH1","TP53","ATRX","CDKN2A","CDK4","CCND1","CCND2","RB1","PDGFRA","PIK3R1","PTEN","NOTCH1","NOTCH2","SMARCA4","ARID1B","KDM2B","KDM5B","KDM6B","ATR","ATM","MSH6"], "paddingInner": 0.1, "paddingOuter": 0.05},
           "axis": {"orient": "left", "title": null, "domain": false, "ticks": false, "labelPadding": 3, "labelFontSize": 7.8, "labelColor": "#222", "labelFontStyle": "italic",
                    "labelExpr": "(datum.value == 'WHO grade' || datum.value == 'Methylation cluster' || datum.value == 'Initial or recurrent' || datum.value == 'Hypermutator') ? '' : datum.value"}},
     "color": {"field": "v", "type": "nominal",
      "scale": {"domain": ["Nonsense", "Frameshift indel", "Splice site", "Missense", "Nonframeshift indel", "High amplification", "Homo-del", "LOH", "none"],
                "range": ["#ff2200", "#7b1a7d", "#f08a14", "#a8c6e6", "#d9e7c1", "#e8a8a6", "#3a9aaa", "#222222", "#e4e4e4"]},
      "legend": {"title": "Genetic alteration", "values": ["Nonsense", "Frameshift indel", "Splice site", "Missense", "Nonframeshift indel", "High amplification", "Homo-del", "LOH"],
                 "orient": "none", "legendX": 93, "legendY": 346, "columns": 2, "gridAlign": "each", "columnPadding": 4, "symbolType": "M-0.45,-1H0.45V1H-0.45Z", "symbolSize": 121, "symbolStrokeWidth": 0, "rowPadding": 0, "labelOffset": 2, "titlePadding": 3, "labelFontSize": 8.2,
                 "encode": {"symbols": {"update": {"shape": {"signal": "datum.value === 'LOH' ? 'M-0.5,-1L0.5,1' : 'M-0.45,-1H0.45V1H-0.45Z'"}, "stroke": {"signal": "datum.value === 'LOH' ? '#222222' : 'transparent'"}, "strokeWidth": {"value": 1}}}}}}}
   },
   {
    "data": {"name": "genes"},
    "transform": [{"filter": "datum.l == 1"}],
    "mark": {"type": "text", "text": "\\", "font": "DejaVu Sans", "fontSize": 13, "color": "#1a1a1a", "baseline": "middle", "align": "center"}
   },
   {
    "data": {"values": [{"grp": "Astrocytic driver", "mid": "TP53"}, {"grp": "PI3K-AKT", "mid": "PIK3R1"}, {"grp": "Chromatin\nregulation", "mid": "KDM2B"}, {"grp": "MMR", "mid": "MSH6"}]},
    "mark": {"type": "text", "align": "right", "baseline": "middle", "fontSize": 8, "lineBreak": "\n", "lineHeight": 10, "color": "#222", "dx": -58},
    "encoding": {
     "x": {"datum": 1, "type": "ordinal", "bandPosition": 0},
     "y": {"field": "mid", "type": "nominal"},
     "text": {"field": "grp"}
    }
   },
   {
    "data": {"values": [{"grp": "RB", "mid": "CDK4"}, {"grp": "NOTCH", "mid": "NOTCH1"}, {"grp": "DDR", "mid": "ATR"}]},
    "mark": {"type": "text", "align": "right", "baseline": "middle", "fontSize": 8, "color": "#222", "dx": -58},
    "encoding": {
     "x": {"datum": 1, "type": "ordinal", "bandPosition": 0},
     "y": {"field": "mid", "type": "nominal", "bandPosition": 1},
     "text": {"field": "grp"}
    }
   },
   {
    "data": {"name": "groups"},
    "mark": {"type": "rule", "color": "#c8c8c8", "strokeWidth": 1, "xOffset": -53},
    "encoding": {
     "x": {"datum": 1, "type": "ordinal", "bandPosition": 0},
     "y": {"field": "first", "type": "nominal", "bandPosition": 0.04},
     "y2": {"field": "last", "bandPosition": 0.96}
    }
   },
   {
    "data": {"name": "groups"},
    "mark": {"type": "tick", "orient": "horizontal", "color": "#c8c8c8", "thickness": 1, "size": 8.5, "xOffset": -48.75},
    "encoding": {
     "x": {"datum": 1, "type": "ordinal", "bandPosition": 0},
     "y": {"field": "first", "type": "nominal", "bandPosition": 0.04}
    }
   },
   {
    "data": {"name": "groups"},
    "mark": {"type": "tick", "orient": "horizontal", "color": "#c8c8c8", "thickness": 1, "size": 8.5, "xOffset": -48.75},
    "encoding": {
     "x": {"datum": 1, "type": "ordinal", "bandPosition": 0},
     "y": {"field": "last", "type": "nominal", "bandPosition": 0.96}
    }
   }
  ]
 }
]
}
